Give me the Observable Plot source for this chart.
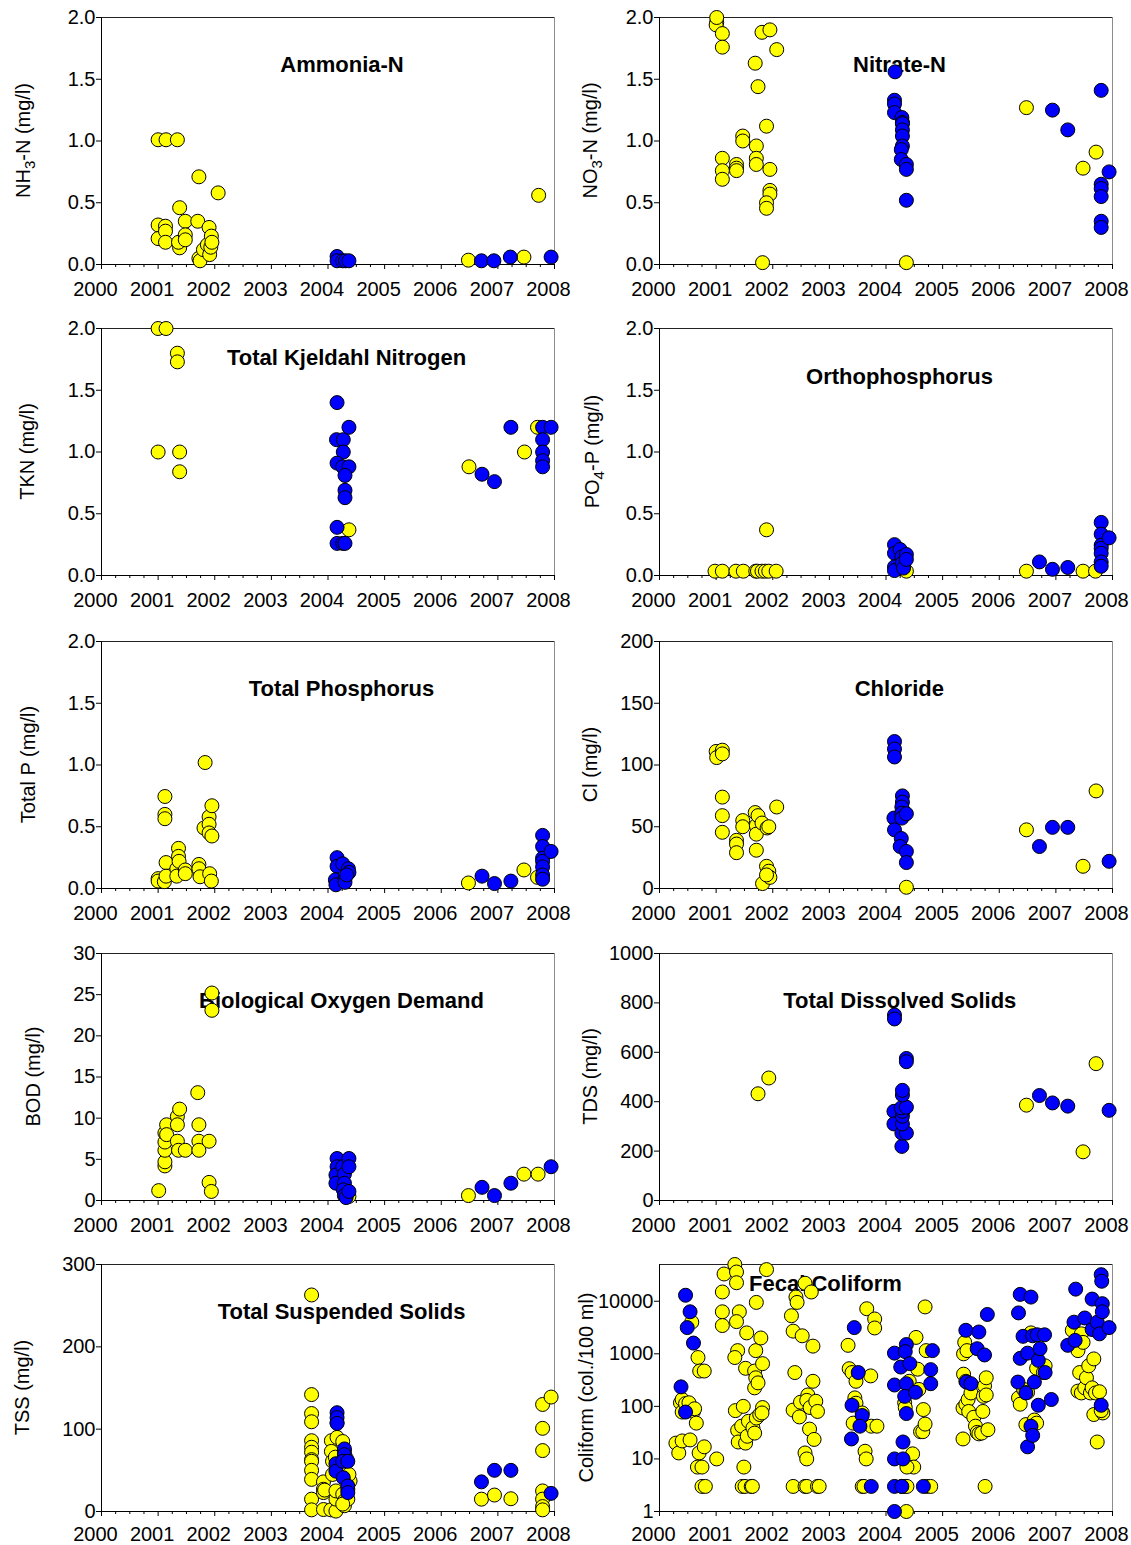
<!DOCTYPE html>
<html><head><meta charset="utf-8">
<script src="https://cdn.jsdelivr.net/npm/d3@7"></script>
<script src="https://cdn.jsdelivr.net/npm/@observablehq/plot@0.6"></script>
<style>
body{margin:0;background:#fff;}
#wrap{position:relative;width:1131px;height:1545px;background:#fff;font-family:"Liberation Sans",Arial,sans-serif;overflow:hidden;}
.panel{position:absolute;}
</style></head><body><div id="wrap"></div>
<script>
// ---------- tick values ----------
const yearTicks = [2000,2001,2002,2003,2004,2005,2006,2007,2008];
const quarterTicks = [2000.25,2000.5,2000.75,2001.25,2001.5,2001.75,2002.25,2002.5,2002.75,2003.25,2003.5,2003.75,2004.25,2004.5,2004.75,2005.25,2005.5,2005.75,2006.25,2006.5,2006.75,2007.25,2007.5,2007.75];
const tickMgl2 = [0,0.5,1,1.5,2];
const tickCl = [0,50,100,150,200];
const tickBOD = [0,5,10,15,20,25,30];
const tickTDS = [0,200,400,600,800,1000];
const tickTSS = [0,100,200,300];
const tickColi = [1,10,100,1000,10000];

// ---------- data: [decimal year, value] ----------
const nh3Yellow = [[2001.00,1.01],[2001.14,1.01],[2001.34,1.01],[2001.00,0.32],[2001.00,0.21],[2001.13,0.31],[2001.13,0.27],[2001.13,0.18],[2001.38,0.46],[2001.38,0.135],[2001.36,0.18],[2001.48,0.35],[2001.48,0.24],[2001.48,0.20],[2001.72,0.71],[2001.70,0.35],[2001.72,0.05],[2001.74,0.03],[2001.80,0.12],[2001.87,0.16],[2001.90,0.30],[2001.94,0.23],[2001.91,0.08],[2001.93,0.14],[2001.95,0.18],[2002.06,0.58],[2006.48,0.035],[2007.46,0.06],[2007.72,0.56]];
const nh3Blue = [[2004.16,0.065],[2004.16,0.03],[2004.26,0.03],[2004.31,0.03],[2004.37,0.03],[2006.71,0.03],[2006.93,0.03],[2007.22,0.06],[2007.94,0.06]];

const no3Yellow = [[2001.01,1.96],[2001.00,1.94],[2001.01,2.0],[2001.11,1.87],[2001.11,1.76],[2001.11,0.86],[2001.11,0.76],[2001.11,0.69],[2001.36,0.81],[2001.36,0.78],[2001.36,0.76],[2001.47,1.04],[2001.47,1.0],[2001.69,1.63],[2001.74,1.44],[2001.71,0.96],[2001.71,0.86],[2001.71,0.81],[2001.81,1.88],[2001.82,0.015],[2001.95,1.90],[2001.89,1.12],[2001.95,0.77],[2001.95,0.60],[2001.95,0.57],[2001.89,0.50],[2001.89,0.455],[2002.07,1.74],[2004.36,0.015],[2006.48,1.27],[2007.48,0.78],[2007.71,0.91]];
const no3Blue = [[2004.16,1.56],[2004.15,1.33],[2004.15,1.30],[2004.15,1.23],[2004.28,1.19],[2004.29,1.15],[2004.29,1.14],[2004.29,1.09],[2004.29,1.04],[2004.29,0.96],[2004.27,0.93],[2004.27,0.85],[2004.36,0.81],[2004.36,0.77],[2004.36,0.52],[2006.94,1.25],[2007.21,1.09],[2007.80,1.41],[2007.80,0.65],[2007.80,0.615],[2007.80,0.55],[2007.80,0.35],[2007.80,0.30],[2007.94,0.75]];

const tknYellow = [[2001.00,2.0],[2001.14,2.0],[2001.34,1.80],[2001.34,1.73],[2001.00,1.0],[2001.38,1.0],[2001.38,0.84],[2004.37,0.37],[2006.49,0.88],[2007.47,1.0],[2007.70,1.2]];
const tknBlue = [[2004.16,1.40],[2004.15,1.10],[2004.27,1.10],[2004.27,1.0],[2004.16,0.91],[2004.26,0.88],[2004.37,0.88],[2004.30,0.81],[2004.30,0.69],[2004.30,0.63],[2004.37,1.20],[2004.16,0.39],[2004.16,0.26],[2004.26,0.26],[2004.30,0.26],[2006.72,0.82],[2006.94,0.76],[2007.23,1.20],[2007.79,1.20],[2007.79,1.10],[2007.79,1.0],[2007.79,0.93],[2007.79,0.88],[2007.94,1.20]];

const po4Yellow = [[2000.98,0.035],[2001.11,0.035],[2001.35,0.035],[2001.48,0.035],[2001.70,0.035],[2001.73,0.035],[2001.81,0.035],[2001.87,0.035],[2001.93,0.035],[2002.06,0.035],[2001.89,0.37],[2004.36,0.035],[2006.48,0.035],[2007.48,0.035],[2007.70,0.035]];
const po4Blue = [[2004.15,0.25],[2004.15,0.18],[2004.15,0.07],[2004.15,0.04],[2004.25,0.21],[2004.28,0.15],[2004.29,0.10],[2004.31,0.06],[2004.36,0.17],[2004.36,0.13],[2006.71,0.11],[2006.94,0.05],[2007.21,0.065],[2007.80,0.43],[2007.80,0.335],[2007.80,0.245],[2007.80,0.22],[2007.80,0.18],[2007.80,0.11],[2007.80,0.075],[2007.94,0.305]];

const tpYellow = [[2001.00,0.08],[2001.00,0.06],[2001.11,0.055],[2001.12,0.745],[2001.12,0.60],[2001.12,0.565],[2001.14,0.21],[2001.14,0.10],[2001.33,0.16],[2001.33,0.10],[2001.36,0.325],[2001.36,0.26],[2001.37,0.22],[2001.48,0.15],[2001.48,0.12],[2001.72,0.195],[2001.72,0.16],[2001.74,0.095],[2001.83,1.02],[2001.81,0.49],[2001.90,0.58],[2001.90,0.52],[2001.90,0.45],[2001.95,0.67],[2001.95,0.425],[2001.91,0.12],[2001.94,0.06],[2006.48,0.045],[2007.46,0.15],[2007.70,0.09]];
const tpBlue = [[2004.16,0.25],[2004.16,0.18],[2004.13,0.07],[2004.14,0.03],[2004.26,0.20],[2004.30,0.08],[2004.30,0.05],[2004.36,0.16],[2004.37,0.13],[2004.33,0.11],[2006.72,0.10],[2006.94,0.04],[2007.23,0.06],[2007.79,0.43],[2007.79,0.34],[2007.79,0.245],[2007.79,0.22],[2007.79,0.175],[2007.79,0.11],[2007.79,0.075],[2007.94,0.30]];

const clYellow = [[2001.00,111],[2001.01,106],[2001.11,112],[2001.11,109],[2001.11,74],[2001.11,59],[2001.11,45.5],[2001.36,39],[2001.36,36],[2001.36,29],[2001.47,55],[2001.47,50],[2001.69,61.5],[2001.71,51],[2001.71,44],[2001.71,31],[2001.74,59],[2001.81,53],[2001.82,4],[2001.89,18],[2001.90,49],[2001.93,50],[2001.93,14],[2001.95,9],[2001.89,11],[2002.07,66],[2004.36,1],[2006.48,47.5],[2007.48,18],[2007.71,79]];
const clBlue = [[2004.15,119],[2004.15,113],[2004.15,106.5],[2004.14,57],[2004.15,47.5],[2004.29,75],[2004.29,70],[2004.28,66],[2004.28,61],[2004.28,57],[2004.36,60.5],[2004.27,40.5],[2004.25,34],[2004.36,30],[2004.36,21],[2006.71,34],[2006.94,49.5],[2007.21,49.5],[2007.94,22]];

const bodYellow = [[2001.01,1.2],[2001.12,4.2],[2001.12,4.7],[2001.12,6.1],[2001.12,7.1],[2001.12,8.2],[2001.15,9.2],[2001.15,8.0],[2001.34,10.2],[2001.38,11.1],[2001.34,9.2],[2001.34,7.2],[2001.36,6.1],[2001.48,6.1],[2001.70,13.1],[2001.72,9.2],[2001.72,7.2],[2001.72,6.1],[2001.90,7.2],[2001.90,2.2],[2001.94,1.1],[2001.95,25.2],[2001.95,23.1],[2004.37,0.5],[2006.48,0.6],[2007.46,3.2],[2007.71,3.2]];
const bodBlue = [[2004.16,5.1],[2004.16,4.1],[2004.14,3.1],[2004.14,2.1],[2004.26,4.1],[2004.29,3.2],[2004.29,2.1],[2004.27,1.3],[2004.29,0.6],[2004.32,0.35],[2004.37,5.1],[2004.37,4.1],[2004.37,1.1],[2006.72,1.6],[2006.94,0.6],[2007.23,2.1],[2007.94,4.1]];

const tdsYellow = [[2001.74,432],[2001.93,496],[2006.48,386],[2007.48,197],[2007.71,554]];
const tdsBlue = [[2004.15,751],[2004.15,735],[2004.14,361],[2004.14,310],[2004.28,219],[2004.28,273],[2004.36,273],[2004.29,310],[2004.29,341],[2004.29,361],[2004.27,375],[2004.36,378],[2004.29,427],[2004.29,446],[2004.36,575],[2004.36,562],[2006.71,425],[2006.94,395],[2007.21,382],[2007.94,365]];

const tssYellow = [[2003.71,263],[2003.71,142],[2003.71,119],[2003.71,109],[2003.71,86],[2003.71,78],[2003.71,72],[2003.71,63],[2003.71,61],[2003.71,50],[2003.71,39],[2003.71,15],[2003.71,2],[2003.92,36],[2003.92,27],[2003.92,23],[2003.92,2.4],[2003.94,26],[2004.05,2],[2004.06,86],[2004.06,73],[2004.08,61],[2004.08,45],[2004.14,0.5],[2004.14,15],[2004.14,25],[2004.16,90],[2004.13,66],[2004.16,108],[2004.26,85],[2004.29,73],[2004.26,21],[2004.29,13],[2004.29,7],[2004.35,15],[2004.39,37],[2004.35,27],[2004.37,45],[2004.32,65],[2004.26,9],[2006.71,15],[2006.94,20],[2007.23,15.5],[2007.79,130],[2007.79,101],[2007.79,74],[2007.79,25],[2007.79,15],[2007.79,6],[2007.79,2],[2007.94,139]];
const tssBlue = [[2004.16,120],[2004.16,114],[2004.16,107],[2004.14,58],[2004.14,49],[2004.29,76],[2004.29,69],[2004.26,61],[2004.27,41],[2004.35,61],[2004.35,31],[2004.35,23],[2006.71,36],[2006.94,50],[2007.23,50],[2007.94,22]];

const fcYellow = [[2000.29,20],[2000.34,13],[2000.40,22],[2000.37,117],[2000.40,135],[2000.40,78],[2000.46,113],[2000.54,23],[2000.52,117],[2000.57,4000],[2000.60,80],[2000.62,90],[2000.65,48],[2000.68,850],[2000.71,470],[2000.79,470],[2000.70,13],[2000.79,17],[2000.67,7],[2000.75,7],[2000.75,3],[2000.81,3],[2001.01,10],
[2001.11,15000],[2001.14,33000],[2001.11,6300],[2001.11,3450],[2001.33,50000],[2001.36,36000],[2001.36,22500],[2001.41,6300],[2001.36,4100],[2001.38,1150],[2001.33,850],[2001.34,83],[2001.38,35],[2001.39,21],[2001.48,100],[2001.45,42],[2001.49,7],[2001.46,3],[2001.51,3],[2001.52,20],[2001.54,2500],[2001.52,530],[2001.55,27],[2001.57,52],[2001.62,3],[2001.64,3],[2001.65,39],[2001.68,31],[2001.71,9500],[2001.70,1150],[2001.68,470],[2001.70,350],[2001.68,225],[2001.74,280],[2001.71,60],[2001.77,70],[2001.79,2000],[2001.82,650],[2001.82,95],[2001.81,75],[2001.89,40000],
[2002.33,5300],[2002.36,2700],[2002.39,440],[2002.36,85],[2002.36,3],[2002.41,12000],[2002.43,9500],[2002.57,22000],[2002.47,63],[2002.49,120],[2002.52,2200],[2002.57,13],[2002.60,10],[2002.57,3],[2002.60,3],[2002.62,165],[2002.60,130],[2002.68,15000],[2002.71,1400],[2002.71,300],[2002.65,37],[2002.66,95],[2002.73,23.5],[2002.76,125],[2002.79,80],[2002.79,3],[2002.82,3],
[2003.33,1450],[2003.35,520],[2003.40,440],[2003.47,300],[2003.45,145],[2003.42,48],[2003.47,115],[2003.58,75],[2003.63,14],[2003.65,10],[2003.58,3],[2003.61,3],[2003.66,7200],[2003.73,380],[2003.74,42],[2003.80,4600],[2003.80,3100],[2003.84,42],
[2004.28,3],[2004.34,3],[2004.37,3],[2004.36,1],[2004.33,117],[2004.34,95],[2004.41,300],[2004.47,12.5],[2004.49,7],[2004.37,7],[2004.53,2050],[2004.56,510],[2004.58,210],[2004.66,87],[2004.61,33],[2004.65,33],[2004.69,46],[2004.69,7800],[2004.71,1150],[2004.72,3],[2004.79,3],
[2005.36,24],[2005.36,93],[2005.37,1000],[2005.39,1650],[2005.37,410],[2005.41,300],[2005.43,1150],[2005.41,110],[2005.45,135],[2005.46,80],[2005.50,180],[2005.55,62],[2005.58,42],[2005.61,32],[2005.64,30],[2005.69,31],[2005.71,80],[2005.72,155],[2005.74,245],[2005.77,350],[2005.77,165],[2005.80,36],[2005.75,3],
[2006.34,145],[2006.37,110],[2006.43,210],[2006.47,45],[2006.50,185],[2006.56,2500],[2006.62,55],[2006.66,48],[2006.66,530],[2006.78,440],[2006.81,590],
[2007.29,2800],[2007.32,1550],[2007.39,1150],[2007.45,2400],[2007.48,1650],[2007.42,440],[2007.39,195],[2007.45,180],[2007.51,225],[2007.54,350],[2007.58,590],[2007.67,800],[2007.61,180],[2007.64,225],[2007.70,180],[2007.67,70],[2007.73,21],[2007.77,190],[2007.83,75],[2007.80,83]];
const fcBlue = [[2000.38,235],[2000.46,78],[2000.46,13000],[2000.54,6300],[2000.49,3150],[2000.60,1600],
[2003.44,3150],[2003.51,440],[2003.40,105],[2003.58,67],[2003.54,42],[2003.39,24],[2003.74,3],
[2004.15,1030],[2004.15,255],[2004.15,10],[2004.15,3],[2004.15,1],[2004.26,560],[2004.30,21],[2004.30,10],[2004.28,3],[2004.36,1500],[2004.34,1100],[2004.36,270],[2004.33,155],[2004.36,73],[2004.42,650],[2004.52,185],[2004.66,3],[2004.79,500],[2004.79,270],[2004.82,1150],
[2005.41,2800],[2005.42,290],[2005.50,270],[2005.64,2600],[2005.61,1250],[2005.74,950],[2005.79,5600],
[2006.34,6000],[2006.37,13500],[2006.42,2150],[2006.37,820],[2006.33,290],[2006.47,180],[2006.50,1030],[2006.50,17],[2006.56,42],[2006.59,28],[2006.56,12000],[2006.59,2200],[2006.67,2300],[2006.80,2300],[2006.62,290],[2006.69,750],[2006.72,1250],[2006.81,440],[2006.69,105],[2006.92,135],
[2007.21,1450],[2007.32,4000],[2007.35,17000],[2007.34,1800],[2007.51,4800],[2007.64,11000],[2007.64,2900],[2007.73,4000],[2007.77,2400],[2007.80,32000],[2007.81,24000],[2007.82,9000],[2007.82,6300],[2007.80,105],[2007.94,3150]];

// ---------- layout ----------
const colLeft = [0, 566];
const colWidth = [566, 565];
const mLeft = [101, 93];
const mRight = [12, 19];
const rowTop = [0, 311, 624, 936, 1247];
const rowPad = [17, 17, 17, 17, 15];
const H = 311, mTop = 17, mBottom = 47;
const f1 = d => d.toFixed(1), f0 = d => String(d), blank = () => "";

const panels = [
  {title:"Ammonia-N", yellow:nh3Yellow, blue:nh3Blue, domain:[0,2], ticks:tickMgl2, fmt:f1, label:["NH","3","-N (mg/l)"], lx:22.5, tdx:14, tdy:47.7, col:0, row:0},
  {title:"Nitrate-N", yellow:no3Yellow, blue:no3Blue, domain:[0,2], ticks:tickMgl2, fmt:f1, label:["NO","3","-N (mg/l)"], lx:590, tdx:13.5, tdy:47.7, col:1, row:0},
  {title:"Total Kjeldahl Nitrogen", yellow:tknYellow, blue:tknBlue, domain:[0,2], ticks:tickMgl2, fmt:f1, label:["TKN (mg/l)"], lx:27, tdx:18.5, tdy:29.4, col:0, row:1},
  {title:"Orthophosphorus", yellow:po4Yellow, blue:po4Blue, domain:[0,2], ticks:tickMgl2, fmt:f1, label:["PO","4","-P (mg/l)"], lx:592, tdx:13.5, tdy:48.4, col:1, row:1},
  {title:"Total Phosphorus", yellow:tpYellow, blue:tpBlue, domain:[0,2], ticks:tickMgl2, fmt:f1, label:["Total P (mg/l)"], lx:28, tdx:13.5, tdy:47.6, col:0, row:2},
  {title:"Chloride", yellow:clYellow, blue:clBlue, domain:[0,200], ticks:tickCl, fmt:f0, label:["Cl (mg/l)"], lx:590, tdx:13.3, tdy:47.6, col:1, row:2},
  {title:"Biological Oxygen Demand", yellow:bodYellow, blue:bodBlue, domain:[0,30], ticks:tickBOD, fmt:f0, label:["BOD (mg/l)"], lx:33, tdx:13.5, tdy:47.3, col:0, row:3},
  {title:"Total Dissolved Solids", yellow:tdsYellow, blue:tdsBlue, domain:[0,1000], ticks:tickTDS, fmt:f0, label:["TDS (mg/l)"], lx:590, tdx:13.8, tdy:47.3, col:1, row:3},
  {title:"Total Suspended Solids", yellow:tssYellow, blue:tssBlue, domain:[0,300], ticks:tickTSS, fmt:f0, label:["TSS (mg/l)"], lx:22, tdx:13.5, tdy:47.4, col:0, row:4},
  {title:"Fecal Coliform", yellow:fcYellow, blue:fcBlue, domain:[1,50000], log:true, ticks:tickColi, fmt:f0, label:["Coliform (col./100 ml)"], lx:586, tdx:-60.5, tdy:19, col:1, row:4}
];

const wrap = document.getElementById("wrap");
const FONT = "'Liberation Sans', Arial, Helvetica, sans-serif";

for (const p of panels) {
  const [y0, y1] = p.domain;
  const chart = Plot.plot({
    width: colWidth[p.col], height: H,
    marginTop: mTop, marginBottom: mBottom, marginLeft: mLeft[p.col], marginRight: mRight[p.col],
    style: {fontFamily: FONT, background: "transparent", overflow: "visible", color: "#000"},
    x: {domain: [2000, 2008]},
    y: {type: p.log ? "log" : "linear", domain: [y0, y1]},
    marks: [
      Plot.frame({stroke: "#8c8c8c"}),
      Plot.ruleY([y1], {stroke: "#222"}),
      Plot.ruleY([y0], {stroke: "#000"}),
      Plot.ruleX([2000], {stroke: "#000"}),
      Plot.axisX({ticks: quarterTicks, tickSize: 3, tickFormat: blank, label: null}),
      Plot.axisX({ticks: yearTicks, tickSize: 5, tickFormat: blank, label: null}),
      Plot.axisX({ticks: yearTicks, tickSize: 0, tickPadding: rowPad[p.row], tickFormat: f0, fontSize: 20, dx: -6, label: null}),
      Plot.axisY({ticks: p.ticks, tickSize: 5, tickPadding: 1, tickFormat: p.fmt, fontSize: 20, label: null}),
      Plot.text([p.title], {text: d => d, frameAnchor: "top", dx: p.tdx, dy: p.tdy, fontSize: 22, fontWeight: "bold", lineAnchor: "middle", fill: "#000"}),
      Plot.dot(p.yellow, {x: d => d[0], y: d => d[1], r: 7, fill: "#ffff00", stroke: "#000", strokeWidth: 1}),
      Plot.dot(p.blue, {x: d => d[0], y: d => d[1], r: 7, fill: "#0000ff", stroke: "#000", strokeWidth: 1})
    ]
  });
  const div = document.createElement("div");
  div.className = "panel";
  div.style.left = colLeft[p.col] + "px";
  div.style.top = rowTop[p.row] + "px";
  div.appendChild(chart);
  wrap.appendChild(div);

  // y-axis title (with subscript where needed)
  const cy = mTop + (H - mTop - mBottom) / 2;
  const t = d3.select(chart).append("text")
    .attr("transform", `translate(${p.lx - colLeft[p.col]},${cy}) rotate(-90)`)
    .attr("text-anchor", "middle")
    .attr("font-size", 20)
    .attr("font-family", FONT)
    .attr("fill", "#000");
  if (p.label.length === 1) {
    t.append("tspan").attr("dy", 7).text(p.label[0]);
  } else {
    t.append("tspan").attr("dy", 7).text(p.label[0]);
    t.append("tspan").attr("dy", 5).attr("font-size", 15).text(p.label[1]);
    t.append("tspan").attr("dy", -5).text(p.label[2]);
  }
}
</script>
</body></html>
